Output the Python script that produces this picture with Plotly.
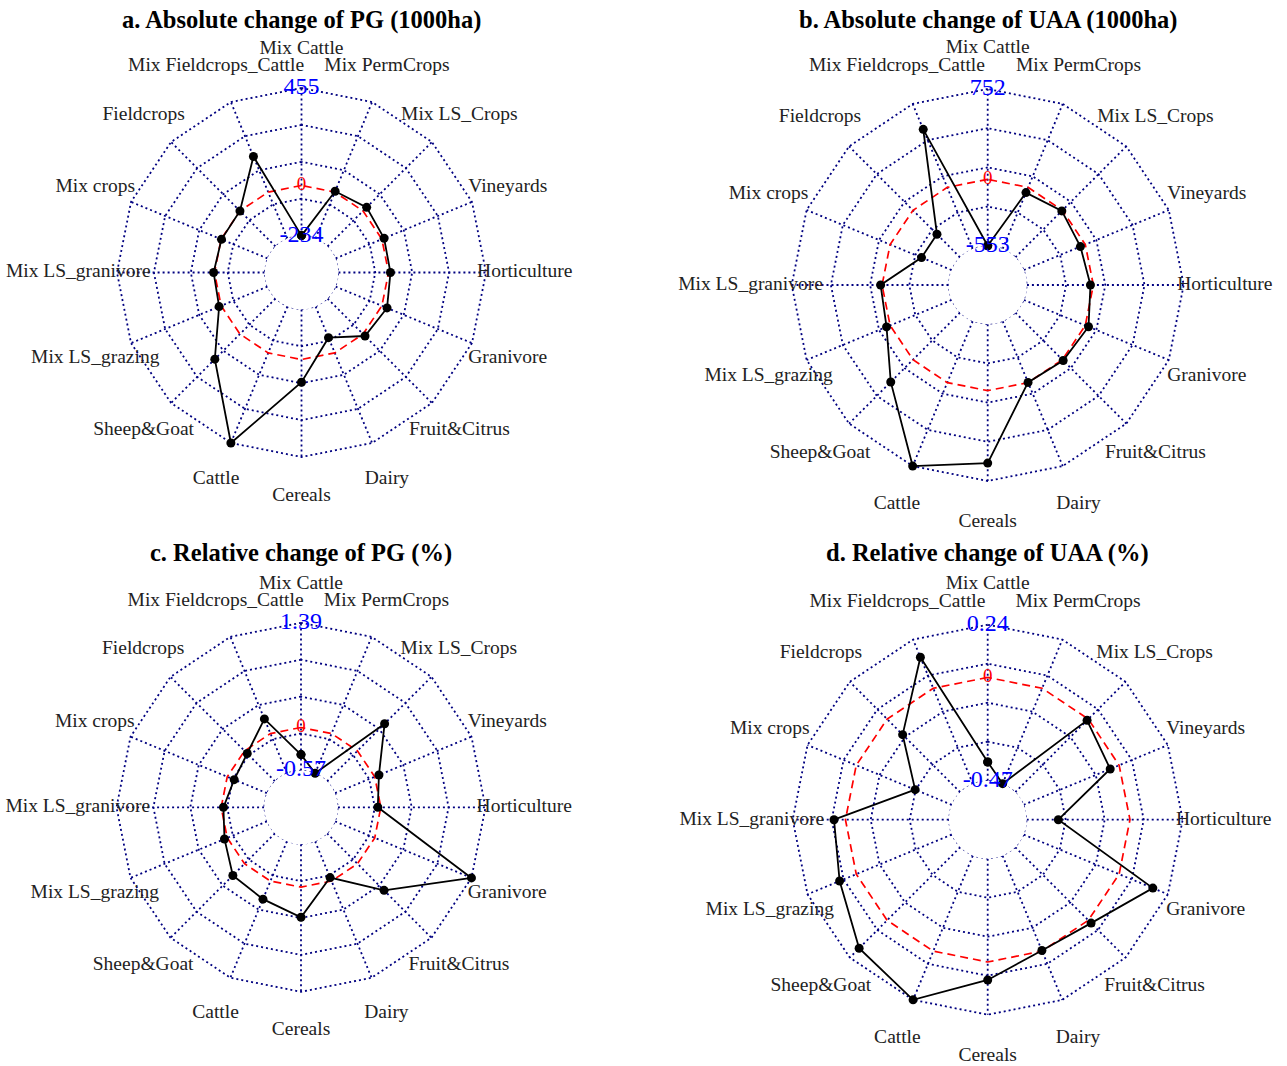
import plotly.graph_objects as go

# Farm types, in the order they go round the radar (anticlockwise from the top)
categories = ["Mix Cattle", "Mix Fieldcrops_Cattle", "Fieldcrops", "Mix crops",
              "Mix LS_granivore", "Mix LS_grazing", "Sheep&Goat", "Cattle",
              "Cereals", "Dairy", "Fruit&Citrus", "Granivore", "Horticulture",
              "Vineyards", "Mix LS_Crops", "Mix PermCrops"]

# a. absolute change of permanent grassland (1000 ha)
pg_abs = [-234, 180, 0, -2, 4, 10, 166, 455, 106, -77, 13, 26, 9, 11, 24, 4]
# b. absolute change of utilised agricultural area (1000 ha)
uaa_abs = [-553, 523, -282, -283, 12, 32, 262, 752, 603, -2, 9, 29, -24, -44, -7, -47]
# c. relative change of permanent grassland (%)
pg_rel = [-0.36, 0.21, -0.05, -0.10, -0.03, 0.04, 0.22, 0.26, 0.40, -0.05,
          0.50, 1.39, -0.04, 0.06, 0.51, -0.57]
# d. relative change of utilised agricultural area (%)
uaa_rel = [-0.385, 0.153, -0.10, -0.29, 0.052, 0.082, 0.180, 0.24, 0.082, -0.003,
           0.018, 0.166, -0.326, -0.044, -0.008, -0.47]

# axis extremes shown on each radar
axis_min = [-234, -553, -0.57, -0.47]
axis_max = [455, 752, 1.39, 0.24]

titles = ["a. Absolute change of PG (1000ha)",
          "b. Absolute change of UAA (1000ha)",
          "c. Relative change of PG (%)",
          "d. Relative change of UAA (%)"]

series = [pg_abs, uaa_abs, pg_rel, uaa_rel]

W, H = 1287, 1066
# panel centre (px) and radius of the outer guide polygon (px)
panels = [(301.5, 272.5, 184.5), (987.7, 285.0, 196),
          (301.0, 807.3, 184.5), (987.7, 819.7, 195)]
title_y = [20, 20, 553, 553]

SEG = 4          # number of segments between the inner and outer guides
INNER = 0.2      # inner guide at 1/5 of the outer guide radius
LABEL = 1.21     # category labels, relative to the outer guide radius
EXTENT = 1.24    # drawing area radius, relative to the outer guide
GRID = "#000080"
SERIF = "Liberation Serif"

fig = go.Figure()

for k in range(4):
    pid = "polar" if k == 0 else f"polar{k + 1}"
    vmin, vmax = axis_min[k], axis_max[k]
    span = vmax - vmin
    vals = series[k]
    per_unit = (1 - INNER) / span          # outer-guide radii per data unit
    r_label = vmin + (LABEL - INNER) / per_unit
    r_top = vmin + (EXTENT - INNER) / per_unit

    # concentric polygon guides
    ring_t, ring_r = [], []
    for i in range(SEG + 1):
        lvl = vmin + span * i / SEG
        ring_t += categories + [categories[0], None]
        ring_r += [lvl] * (len(categories) + 1) + [None]
    fig.add_trace(go.Scatterpolar(
        theta=ring_t, r=ring_r, mode="lines", subplot=pid,
        line=dict(color=GRID, width=1.8, dash="2px,3px"),
        hoverinfo="skip", showlegend=False, connectgaps=False))

    # spokes
    sp_t, sp_r = [], []
    for c in categories:
        sp_t += [c, c, None]
        sp_r += [vmin, vmax, None]
    fig.add_trace(go.Scatterpolar(
        theta=sp_t, r=sp_r, mode="lines", subplot=pid,
        line=dict(color=GRID, width=1.8, dash="2px,3px"),
        hoverinfo="skip", showlegend=False, connectgaps=False))

    # zero reference
    fig.add_trace(go.Scatterpolar(
        theta=categories + [categories[0]], r=[0] * (len(categories) + 1),
        mode="lines", subplot=pid,
        line=dict(color="#ff0000", width=1.7, dash="8px,5px"),
        hoverinfo="skip", showlegend=False))

    # data
    fig.add_trace(go.Scatterpolar(
        theta=categories + [categories[0]], r=vals + [vals[0]],
        mode="lines+markers", subplot=pid, cliponaxis=False,
        line=dict(color="black", width=1.8),
        marker=dict(color="black", size=9),
        showlegend=False))

    # axis value labels on the top spoke
    fig.add_trace(go.Scatterpolar(
        theta=[categories[0], categories[0]], r=[vmin, vmax],
        text=[f"{vmin:g}", f"{vmax:g}"], mode="text", subplot=pid,
        cliponaxis=False, textposition="middle center",
        textfont=dict(family=SERIF, size=24, color="#0000ff"),
        hoverinfo="skip", showlegend=False))
    fig.add_trace(go.Scatterpolar(
        theta=[categories[0]], r=[0], text=["0"], mode="text", subplot=pid,
        cliponaxis=False, textposition="middle center",
        textfont=dict(family=SERIF, size=19, color="#ff0000"),
        hoverinfo="skip", showlegend=False))

    # category labels outside the outer polygon
    fig.add_trace(go.Scatterpolar(
        theta=categories, r=[r_label] * len(categories),
        text=categories, mode="text", subplot=pid, cliponaxis=False,
        textposition="middle center",
        textfont=dict(family=SERIF, size=19.5, color="#222222"),
        hoverinfo="skip", showlegend=False))

    cx, cy, R = panels[k]
    Rd = R * EXTENT
    fig.update_layout(**{pid: dict(
        domain=dict(x=[(cx - Rd) / W, (cx + Rd) / W],
                    y=[max(0, 1 - (cy + Rd) / H), 1 - (cy - Rd) / H]),
        hole=INNER / EXTENT,
        bgcolor="rgba(0,0,0,0)",
        radialaxis=dict(visible=False, range=[vmin, r_top]),
        angularaxis=dict(type="category", categoryorder="array",
                         categoryarray=categories, rotation=90,
                         direction="counterclockwise", showgrid=False,
                         showline=False, showticklabels=False, ticks=""),
    )})

    fig.add_annotation(
        x=cx / W, y=1 - title_y[k] / H, xref="paper", yref="paper",
        text=f"<b>{titles[k]}</b>", showarrow=False,
        xanchor="center", yanchor="middle",
        font=dict(family=SERIF, size=24.5, color="black"))

fig.update_layout(
    width=W, height=H,
    margin=dict(l=0, r=0, t=0, b=0),
    paper_bgcolor="white", plot_bgcolor="white",
    showlegend=False,
)

fig.write_html("out.html")
